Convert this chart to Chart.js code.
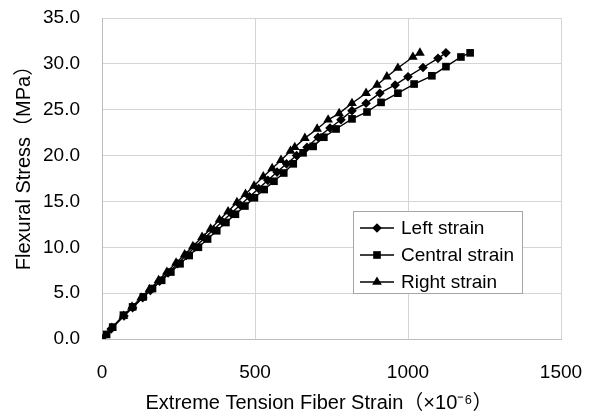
<!DOCTYPE html>
<html>
<head>
<meta charset="utf-8">
<script src="https://cdn.jsdelivr.net/npm/chart.js@4"></script>
<style>
  html, body { margin: 0; padding: 0; background: #fff; }
  #wrap { width: 591px; height: 414px; }
</style>
</head>
<body>
<div id="wrap"><canvas id="chart" width="591" height="414"></canvas></div>
<script>
// strain (x10^-6) and stress (MPa)
const leftStrain = [0, 30, 72, 100, 133, 158, 188, 216, 247, 275, 303, 335, 364, 393, 422, 452, 482, 512, 542, 572, 603, 636, 670, 706, 745, 781, 817, 863, 908, 958, 1000, 1049, 1098, 1124];
const leftStress = [0, 1.1, 2.5, 3.4, 4.5, 5.3, 6.3, 7.2, 8.2, 9.1, 10.0, 11.0, 11.9, 12.8, 13.7, 14.6, 15.5, 16.4, 17.3, 18.2, 19.1, 20.0, 20.9, 22.0, 23.0, 23.9, 24.9, 25.7, 26.8, 27.7, 28.6, 29.6, 30.6, 31.2];

const centralStrain = [0, 15, 35, 70, 100, 135, 165, 195, 225, 255, 285, 315, 345, 375, 405, 436, 467, 498, 530, 562, 594, 625, 657, 690, 725, 765, 817, 866, 912, 967, 1020, 1078, 1124, 1173, 1203];
const centralStress = [0, 0.5, 1.3, 2.6, 3.5, 4.6, 5.5, 6.4, 7.3, 8.2, 9.1, 10.0, 10.9, 11.8, 12.7, 13.6, 14.5, 15.4, 16.3, 17.2, 18.1, 19.1, 20.3, 21.0, 22.0, 22.9, 24.0, 24.75, 25.8, 26.8, 27.8, 28.7, 29.7, 30.75, 31.2];

const rightStrain = [0, 32, 70, 98, 128, 155, 185, 212, 242, 270, 297, 327, 355, 384, 412, 441, 469, 497, 527, 556, 585, 616, 630, 663, 703, 739, 775, 817, 863, 899, 931, 967, 1016, 1039];
const rightStress = [0, 1.2, 2.5, 3.5, 4.5, 5.4, 6.4, 7.3, 8.3, 9.2, 10.1, 11.1, 12.0, 13.0, 13.9, 14.9, 15.8, 16.7, 17.7, 18.6, 19.5, 20.5, 20.9, 21.9, 22.9, 23.9, 24.6, 25.7, 26.8, 27.7, 28.6, 29.55, 30.75, 31.2];

const seriesNames = ["Left strain", "Central strain", "Right strain"];
const markerStyles = ["rectRot", "rect", "triangle"];
const markerSizes = [4.8, 5.4, 5.6];

const xTitle = "Extreme Tension Fiber Strain（×10⁻⁶）";
const yTitle = "Flexural Stress（MPa）";

const fontFamily = "'Liberation Sans', Arial, 'Noto Sans CJK JP', sans-serif";

function toPoints(xs, ys) {
  return xs.map((x, i) => ({ x: x, y: ys[i] }));
}

const datasets = [
  toPoints(leftStrain, leftStress),
  toPoints(centralStrain, centralStress),
  toPoints(rightStrain, rightStress)
].map((pts, i) => ({
  label: seriesNames[i],
  data: pts,
  borderColor: "#000",
  backgroundColor: "#000",
  borderWidth: 1.4,
  pointStyle: markerStyles[i],
  pointRadius: markerSizes[i],
  pointBorderWidth: 0,
  showLine: true,
  tension: 0
}));

// legend box + axis titles, placed like the original
const extras = {
  id: "extras",
  afterDraw(chart) {
    const ctx = chart.ctx;
    const x0 = 353, y0 = 211, w = 169, h = 82;
    ctx.save();
    ctx.fillStyle = "#fff";
    ctx.fillRect(x0, y0, w, h);
    ctx.strokeStyle = "#a6a6a6";
    ctx.lineWidth = 1;
    ctx.strokeRect(x0 + 0.5, y0 + 0.5, w, h);
    ctx.font = "19px " + fontFamily;
    ctx.textBaseline = "middle";
    chart.data.datasets.forEach((ds, i) => {
      const cy = y0 + 17 + i * 27;
      ctx.strokeStyle = "#000";
      ctx.lineWidth = 1.4;
      ctx.beginPath();
      ctx.moveTo(360, cy);
      ctx.lineTo(394, cy);
      ctx.stroke();
      ctx.fillStyle = "#000";
      Chart.helpers.drawPoint(ctx, { pointStyle: ds.pointStyle, radius: ds.pointRadius, borderWidth: 0 }, 377, cy);
      ctx.fillText(ds.label, 401, cy + 1);
    });

    // titles
    ctx.fillStyle = "#000";
    ctx.font = "20px " + fontFamily;
    ctx.textAlign = "center";
    ctx.fillText(xTitle, 319, 403);
    ctx.translate(24, 163);
    ctx.rotate(-Math.PI / 2);
    ctx.fillText(yTitle, 0, 0);
    ctx.restore();
  }
};

const ctx = document.getElementById("chart").getContext("2d");
new Chart(ctx, {
  type: "scatter",
  data: { datasets: datasets },
  options: {
    responsive: false,
    animation: false,
    layout: { padding: { top: 18, right: 30, left: 0, bottom: 0 } },
    plugins: {
      legend: { display: false },
      tooltip: { enabled: false }
    },
    scales: {
      x: {
        type: "linear",
        min: 0,
        max: 1500,
        ticks: {
          stepSize: 500,
          color: "#000",
          padding: 22,
          font: { family: fontFamily, size: 19 },
          callback: v => String(v)
        },
        grid: { color: "#d4d4d4", drawTicks: false },
        border: { color: "#bdbdbd" },
        afterFit(scale) {
          scale.height = 75;
          scale.paddingLeft = 0;
          scale.paddingRight = 0;
        }
      },
      y: {
        min: 0,
        max: 35,
        ticks: {
          stepSize: 5,
          color: "#000",
          padding: 22,
          font: { family: fontFamily, size: 19 },
          callback: v => v.toFixed(1)
        },
        grid: { color: "#d4d4d4", drawTicks: false },
        border: { color: "#bdbdbd" },
        afterFit(scale) {
          scale.width = 102;
          scale.paddingTop = 0;
          scale.paddingBottom = 0;
        }
      }
    }
  },
  plugins: [extras]
});
</script>
</body>
</html>
